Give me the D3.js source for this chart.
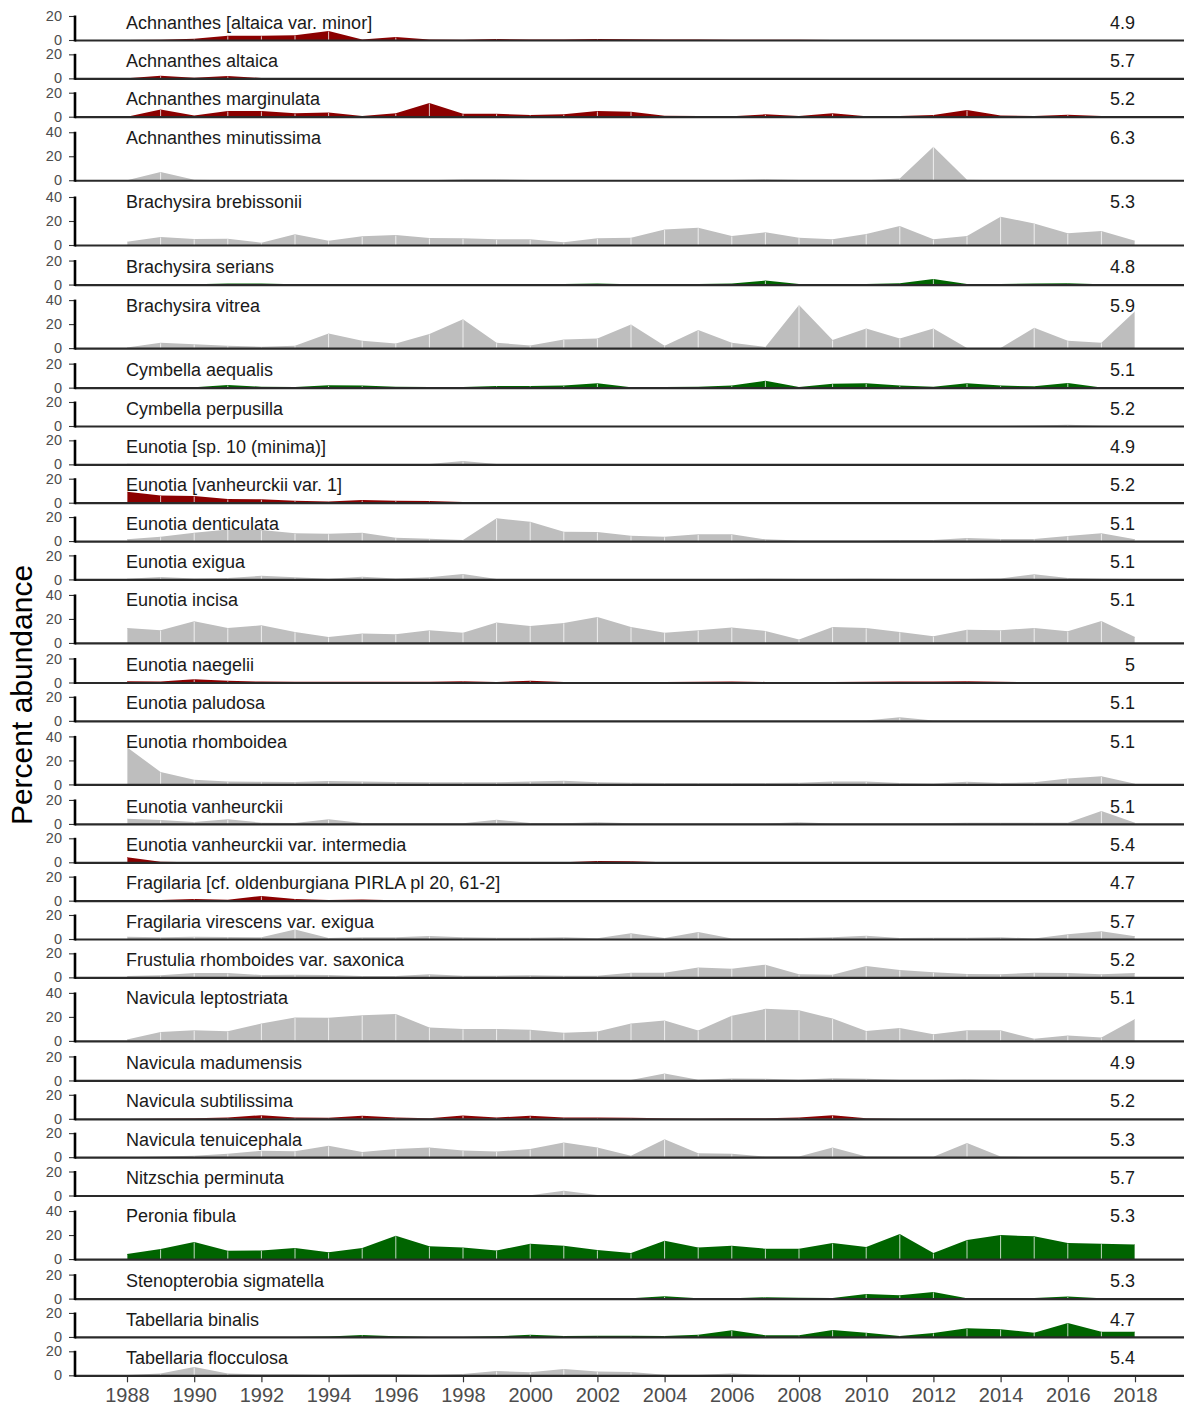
<!DOCTYPE html>
<html><head><meta charset="utf-8">
<script src="https://cdn.jsdelivr.net/npm/d3@7"></script>
<style>body{margin:0;background:#fff} svg{display:block}</style>
</head><body>
<svg id="chart" width="1184" height="1412"></svg>
<script>
const years = [1988,1989,1990,1991,1992,1993,1994,1995,1996,1997,1998,1999,2000,2001,2002,2003,2004,2005,2006,2007,2008,2009,2010,2011,2012,2013,2014,2015,2016,2017,2018];
const xTickYears = [1988,1990,1992,1994,1996,1998,2000,2002,2004,2006,2008,2010,2012,2014,2016,2018];

const taxa = ["Achnanthes [altaica var. minor]","Achnanthes altaica","Achnanthes marginulata","Achnanthes minutissima","Brachysira brebissonii","Brachysira serians","Brachysira vitrea","Cymbella aequalis","Cymbella perpusilla","Eunotia [sp. 10 (minima)]","Eunotia [vanheurckii var. 1]","Eunotia denticulata","Eunotia exigua","Eunotia incisa","Eunotia naegelii","Eunotia paludosa","Eunotia rhomboidea","Eunotia vanheurckii","Eunotia vanheurckii var. intermedia","Fragilaria [cf. oldenburgiana PIRLA pl 20, 61-2]","Fragilaria virescens var. exigua","Frustulia rhomboides var. saxonica","Navicula leptostriata","Navicula madumensis","Navicula subtilissima","Navicula tenuicephala","Nitzschia perminuta","Peronia fibula","Stenopterobia sigmatella","Tabellaria binalis","Tabellaria flocculosa"];
const optima = ["4.9","5.7","5.2","6.3","5.3","4.8","5.9","5.1","5.2","4.9","5.2","5.1","5.1","5.1","5","5.1","5.1","5.1","5.4","4.7","5.7","5.2","5.1","4.9","5.2","5.3","5.7","5.3","5.3","4.7","5.4"];
const groups = ["decline","decline","decline","none","none","increase","none","increase","none","none","decline","none","none","none","decline","none","none","none","decline","decline","none","none","none","none","decline","none","none","increase","increase","increase","none"];
const axisMax = [20,20,20,40,40,20,40,20,20,20,20,20,20,40,20,20,40,20,20,20,20,20,40,20,20,20,20,40,20,20,20];
const groupColors = {decline:"#8b0000", none:"#bebebe", increase:"#006400"};

const achAltaicaMinor = [0,0.3,1,3.5,3.5,4,7.5,0.5,2.5,0.5,0.2,0.8,0.5,0.5,0.8,0.6,0.5,0.5,0.3,0.2,0.2,0,0,0,0,0,0,0,0,0,0];
const achAltaica = [0,2.2,0.5,2,0.3,0,0,0,0,0,0,0,0,0,0,0,0,0,0,0,0,0,0,0,0,0,0,0,0,0,0];
const achMarginulata = [0,6,1,4.7,4.7,2.8,3.6,0.5,2.8,11.4,2.5,2.5,1.4,2,4.7,4.2,0.8,0.5,0.3,2,0.5,2.8,0.3,0.5,1.4,5.6,1,0.5,1.7,0.5,0];
const achMinutissima = [0,6.9,0.5,0,0,0,0,0,0,0,0.8,0.8,0.3,0,0,0,0,0,0.3,0.8,0.3,0,0,1.5,28,0.5,0,0,0,0,0];
const braBrebissonii = [2.8,6.7,5,5.3,1.9,8.9,3.6,7.2,8.3,5.8,5.6,4.7,4.7,2.2,5.6,6.1,13,14.4,7.5,10.6,6.1,4.7,9.2,15.8,4.7,7.5,23.6,18,9.7,11.7,3.6];
const braSerians = [0,0,0.3,0.8,0.8,0.3,0.2,0.2,0.2,0.2,0.2,0.3,0.3,0.5,0.8,0.3,0.3,0.5,0.8,3.3,0.5,0.5,0.5,1,4.7,0.5,0.5,0.8,1,0.3,0];
const braVitrea = [0.5,4.4,3.3,2,1.1,2,12.2,6.1,3.9,11.7,24,4.4,2.2,7.2,8,19.7,2,15,4.4,1,36,6.7,16.4,8,16.4,0,0,17,6.1,4.4,30.8];
const cymAequalis = [0,0,0.3,2.2,0.8,0.5,1.9,1.7,0.8,0.5,0.5,1.4,1.4,1.7,3.6,0.3,0.5,0.8,1.7,5.8,0.5,3.3,3.6,1.7,0.8,3.6,1.7,1.1,3.9,0.2,0];
const cymPerpusilla = [0,0,0,0,0,0,0,0,0,0,0,0,0,0,0,0,0,0,0,0,0,0,0,0,0,0,0,0.4,1,0.3,0];
const eunSp10 = [0.5,0.2,0,0,0,0,0,0,0,0.3,2.8,0.3,0,0,0,0,0,0,0,0,0,0,0,0,0,0,0,0,0,0,0];
const eunVanheurckiiVar1 = [9.2,6.1,5.6,3,2.8,1.7,1.1,2.2,1.7,1.4,0.5,0,0,0,0,0,0,0,0,0,0,0,0,0,0,0,0,0,0,0,0];
const eunDenticulata = [1.4,3.6,6.9,9.7,9.2,6.4,6.1,6.9,2.8,1.9,0.8,18.9,16,7.8,7.5,4.4,3.6,5.6,5.6,1.4,0.5,0.5,0.5,0.8,0.8,2.5,1.7,1.7,4.2,6.4,1.4];
const eunExigua = [0.5,1.9,0.8,1.1,3,1.7,0.5,2.2,0.8,1.7,4.4,0.3,0.3,0.3,0.3,0.3,0.3,0.3,0.3,0.5,0.3,0.3,0.5,0.3,0.3,0.3,0.8,4.2,1.1,0.5,0.3];
const eunIncisa = [12.5,10.6,18,12.5,14.7,9.2,5,7.8,7.2,10.6,8.6,17,14.2,16.7,21.7,13.3,8.6,10.6,12.8,10,2.8,13.3,12.5,9.2,5.6,11.1,10.6,12.5,9.7,18.3,5];
const eunNaegelii = [1.1,0.8,2.8,1.4,0.8,0.7,0.6,0.6,0.6,0.7,1.1,0.5,1.4,0.5,0.3,0.2,0.5,0.7,0.8,0.5,0.3,0.5,0.7,0.8,0.8,1,0.7,0.3,0.2,0.2,0.2];
const eunPaludosa = [0,0,0,0,0,0,0,0,0,0,0,0,0,0,0,0,0,0,0,0,0,0,0.3,3,0.3,0,0,0,0,0,0];
const eunRhomboidea = [31,10.3,3.9,2.5,2.2,1.9,2.8,2.5,1.9,1.7,1.7,1.7,2.5,3,1.8,1.4,1.1,1.1,1.1,1.1,1.4,2.5,2.5,1.1,0.8,2.2,1.1,1.7,5,6.7,0.5];
const eunVanheurckii = [4.4,3.3,1.7,3.9,1.1,0.8,3.9,0.8,0.5,0.5,0.5,3.6,0.8,0.5,1.4,0.5,0.3,0.3,0.3,0.3,1.5,0.4,0.3,0.3,0.5,1.1,1.1,1.1,1.1,10.8,1.1];
const eunVanheurckiiInt = [4.2,0.5,0,0,0,0,0,0,0,0,0,0,0,0,1,0.8,0,0,0,0,0,0,0,0,0,0,0,0,0,0,0];
const fraOldenburgiana = [0,0.5,1.4,0.8,3.9,1.4,0.5,1,0.3,0,0,0,0,0,0,0,0,0,0,0,0,0,0,0,0,0,0,0,0,0,0];
const fraVirescens = [1.9,1.4,1.9,1.7,1.4,8,0.8,1.4,1.4,2.5,1.4,1.1,1.1,1.4,0.6,4.7,0.8,5.8,0.5,0.5,0.8,1.4,2.8,0.8,1.1,1.1,1.4,0.5,3.9,6.4,2.2];
const fruRhomboides = [1.1,1.7,3.6,3.6,1.9,2.2,1.9,1.1,1.1,2.5,1.4,1.4,1.7,1.4,1.4,3.9,3.9,8.3,7.2,10.6,2.5,2.2,9.4,6.1,4.2,2.8,2.5,3.9,3.6,2.5,3.6];
const navLeptostriata = [1.1,7.5,8.9,8,14.4,19.4,19.2,21.4,22.5,11.1,10,10,9.2,6.7,7.9,14.4,17,8.6,21,26.7,25.6,18.6,8.3,10.8,5.6,8.9,8.9,1.7,4.4,2.8,18.3];
const navMadumensis = [0,0,0,0,0,0,0,0,0,0,0,0,0,0,0,0.3,5.8,0.5,1.7,1.4,0.5,1.9,1.4,0.5,0.5,1.1,0.3,0,0,0,0];
const navSubtilissima = [0,0.3,0.5,1.1,3,1.1,0.8,2.5,1.1,0.5,2.8,1.1,2.5,1.1,1.1,0.8,0.5,0.3,0.5,0.5,1.1,3,0.5,0,0,0,0,0,0,0,0];
const navTenuicephala = [0,0.5,1.1,2.8,5.3,5,9.4,4.2,6.7,8,5.6,4.7,6.7,12.2,8,1.1,15,3.3,2.8,0.5,0.5,8,0.5,0.3,0.3,11.7,0.5,0,0,0,0];
const nitPerminuta = [0,0,0,0,0,0,0,0,0,0,0,0,0.3,3.9,0.5,0,0,0,0,0,0,0,0,0,0,0,0,0,0,0,0];
const perFibula = [4.2,8.3,14.2,6.9,7.2,9.2,5.6,9.2,19.4,10.6,9.7,7.2,12.8,11.1,7.5,5,15.3,9.7,11.1,8.6,8.6,13.3,10,20.8,5,15.8,20,18.9,13.3,12.8,12.2];
const steSigmatella = [0,0,0,0,0,0,0,0,0,0,0,0,0,0,0,0.3,1.9,0.3,0.3,1.1,0.8,0.5,3.9,2.8,5.6,0.3,0.3,0.5,1.7,0.3,0];
const tabBinalis = [0,0,0,0,0,0,0.3,1.7,0.5,0,0,0.5,1.9,0.8,1,1.1,0.8,1.9,5.6,1.4,1.4,5.8,3.6,0.8,3.3,7.2,6.4,3.6,11.7,4.4,4.4];
const tabFlocculosa = [0.3,1.4,6.9,1.4,0.8,0.8,0.5,0.8,0.8,0.5,1.1,3.6,2.5,5.3,3.1,2.8,0.5,0.5,1.4,0.5,0.3,0.3,0.3,0.3,0.3,0.3,0.3,0.3,0.3,0.3,0.3];

const seriesList = [achAltaicaMinor, achAltaica, achMarginulata, achMinutissima, braBrebissonii, braSerians, braVitrea, cymAequalis, cymPerpusilla, eunSp10, eunVanheurckiiVar1, eunDenticulata, eunExigua, eunIncisa, eunNaegelii, eunPaludosa, eunRhomboidea, eunVanheurckii, eunVanheurckiiInt, fraOldenburgiana, fraVirescens, fruRhomboides, navLeptostriata, navMadumensis, navSubtilissima, navTenuicephala, nitPerminuta, perFibula, steSigmatella, tabBinalis, tabFlocculosa];

const svg = d3.select("#chart");
const FONT = "'Liberation Sans', Arial, Helvetica, sans-serif";
const K = 1.2, GAP = 11.95, TOP = 14.8;
const AXIS_X = 75, RIGHT = 1184;
const x = d3.scaleLinear().domain([1988, 2018]).range([127, 1135]);

let panelTop = TOP, lastBottom = 0;
taxa.forEach((name, i) => {
  const mx = axisMax[i];
  const h = 1.1 * mx * K;
  const y = d3.scaleLinear().domain([-0.05 * mx, 1.05 * mx]).range([panelTop + h, panelTop]);
  const vals = seriesList[i];
  const data = years.map((yr, j) => ({yr, v: vals[j]}));
  const g = svg.append("g");
  const color = groupColors[groups[i]];

  const area = d3.area().x(d => x(d.yr)).y0(y(0)).y1(d => y(d.v));
  g.append("path").datum(data).attr("d", area).attr("fill", color);

  g.selectAll("line.sep").data(data.filter(d => d.v > 0.6)).join("line")
    .attr("class", "sep")
    .attr("x1", d => x(d.yr)).attr("x2", d => x(d.yr))
    .attr("y1", y(0)).attr("y2", d => y(d.v) + 0.5)
    .attr("stroke", "#ffffff").attr("stroke-opacity", 0.75).attr("stroke-width", 1);

  g.append("line").attr("x1", AXIS_X).attr("x2", RIGHT)
    .attr("y1", y(0) + 0.5).attr("y2", y(0) + 0.5)
    .attr("stroke", "#2a2a2a").attr("stroke-width", 2.2);

  const ax = d3.axisLeft(y).tickValues(d3.range(0, mx + 1, 20)).tickSize(5).tickPadding(7).tickFormat(d3.format("d"));
  const ag = g.append("g").attr("transform", `translate(${AXIS_X - 1},0)`).call(ax);
  ag.select(".domain").remove();
  ag.selectAll(".tick line").attr("stroke", "#333").attr("stroke-width", 1.1);
  ag.selectAll(".tick text").attr("fill", "#4d4d4d").style("font-family", FONT).style("font-size", "14.5px");
  g.append("line").attr("x1", AXIS_X).attr("x2", AXIS_X)
    .attr("y1", y(0) + 1.5).attr("y2", y(mx) - 0.5)
    .attr("stroke", "#000").attr("stroke-width", 2.6);

  g.append("text").attr("x", x(1988) - 1).attr("y", panelTop + 13.8)
    .attr("fill", "#1a1a1a").style("font-family", FONT).style("font-size", "18px").text(name);
  g.append("text").attr("x", x(2018)).attr("y", panelTop + 13.8).attr("text-anchor", "end")
    .attr("fill", "#1a1a1a").style("font-family", FONT).style("font-size", "18px").text(optima[i]);

  lastBottom = y(0) + 1;
  panelTop += h + GAP;
});

const xa = d3.axisBottom(x).tickValues(xTickYears).tickSize(6).tickPadding(6).tickFormat(d3.format("d"));
const xg = svg.append("g").attr("transform", `translate(0,${lastBottom})`).call(xa);
xg.select(".domain").remove();
xg.selectAll(".tick line").attr("stroke", "#333").attr("stroke-width", 1.2);
xg.selectAll(".tick text").attr("fill", "#4d4d4d").style("font-family", FONT).style("font-size", "20px");

svg.append("text").attr("transform", `translate(32,695) rotate(-90)`).attr("text-anchor", "middle")
  .attr("fill", "#000").style("font-family", FONT).style("font-size", "30px").text("Percent abundance");
</script>
</body></html>
